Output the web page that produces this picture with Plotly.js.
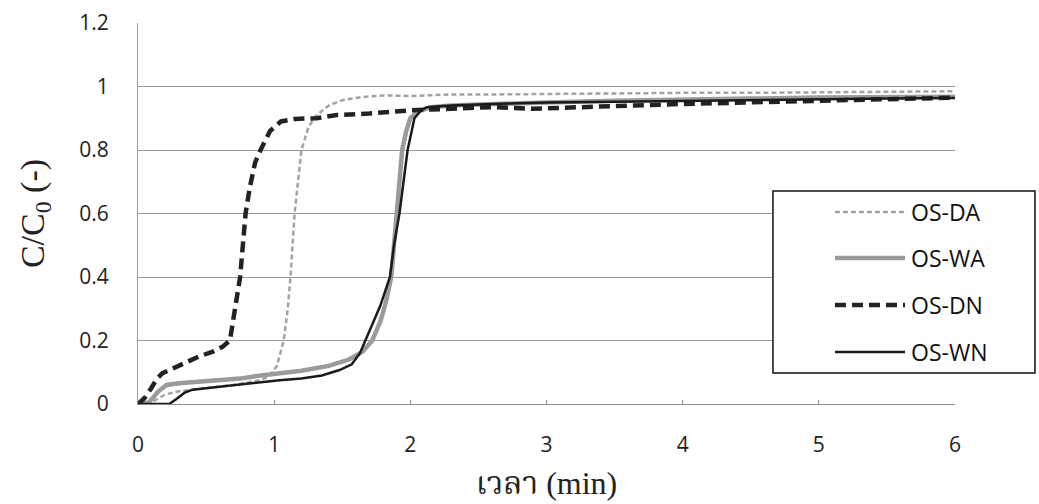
<!DOCTYPE html>
<html>
<head>
<meta charset="utf-8">
<script src="https://cdn.plot.ly/plotly-3.0.1.min.js"></script>
<style>html,body{margin:0;padding:0;background:#fff;}#chart{width:1039px;height:504px;}</style>
</head>
<body>
<div id="chart"></div>
<script>
// Data
const daX = [0, 0.1, 0.2, 0.3, 0.5, 0.7, 0.9, 0.97, 1.02, 1.05, 1.07, 1.1, 1.12, 1.15, 1.2, 1.25, 1.3, 1.4, 1.5, 1.65, 1.8, 2.0, 2.3, 2.6, 3.0, 3.5, 4.0, 4.5, 5.0, 5.5, 6.0];
const daY = [0, 0.005, 0.03, 0.04, 0.05, 0.06, 0.075, 0.09, 0.12, 0.17, 0.2, 0.3, 0.4, 0.6, 0.8, 0.87, 0.905, 0.94, 0.957, 0.967, 0.972, 0.97, 0.975, 0.975, 0.977, 0.978, 0.98, 0.98, 0.982, 0.983, 0.985];

const waX = [0, 0.08, 0.15, 0.21, 0.3, 0.43, 0.6, 0.75, 0.9, 1.0, 1.2, 1.4, 1.55, 1.65, 1.72, 1.78, 1.82, 1.86, 1.88, 1.9, 1.92, 1.94, 1.97, 2.0, 2.05, 2.15, 2.3, 2.6, 3.0, 3.5, 4.0, 4.5, 5.0, 5.5, 6.0];
const waY = [0, 0.005, 0.04, 0.06, 0.065, 0.07, 0.075, 0.08, 0.09, 0.095, 0.105, 0.12, 0.14, 0.165, 0.2, 0.26, 0.32, 0.4, 0.5, 0.6, 0.7, 0.8, 0.86, 0.9, 0.92, 0.935, 0.94, 0.945, 0.95, 0.955, 0.96, 0.962, 0.965, 0.966, 0.968];

const dnX = [0, 0.05, 0.09, 0.14, 0.18, 0.27, 0.36, 0.45, 0.55, 0.62, 0.675, 0.7, 0.72, 0.75, 0.77, 0.79, 0.82, 0.86, 0.9, 0.97, 1.05, 1.15, 1.31, 1.46, 1.7, 2.0, 2.3, 2.6, 2.9, 3.2, 3.5, 4.0, 4.5, 5.0, 5.5, 6.0];
const dnY = [0, 0.02, 0.045, 0.08, 0.097, 0.115, 0.13, 0.15, 0.165, 0.18, 0.2, 0.26, 0.32, 0.4, 0.5, 0.6, 0.68, 0.76, 0.8, 0.86, 0.89, 0.898, 0.9, 0.91, 0.915, 0.925, 0.93, 0.935, 0.93, 0.935, 0.94, 0.945, 0.95, 0.955, 0.96, 0.965];

const wnX = [0, 0.23, 0.28, 0.34, 0.4, 0.5, 0.675, 0.85, 1.04, 1.2, 1.35, 1.48, 1.57, 1.63, 1.67, 1.72, 1.78, 1.85, 1.88, 1.92, 1.95, 1.98, 2.03, 2.08, 2.12, 2.3, 2.6, 3.0, 3.5, 4.0, 4.5, 5.0, 5.5, 6.0];
const wnY = [0, 0, 0.015, 0.035, 0.045, 0.05, 0.058, 0.066, 0.075, 0.08, 0.09, 0.107, 0.125, 0.16, 0.2, 0.25, 0.31, 0.4, 0.5, 0.6, 0.7, 0.8, 0.9, 0.925, 0.935, 0.94, 0.945, 0.95, 0.952, 0.955, 0.958, 0.96, 0.962, 0.964];

const seriesNames = ['OS-DA', 'OS-WA', 'OS-DN', 'OS-WN'];
const xTicks = [0, 1, 2, 3, 4, 5, 6];
const yTicks = [0, 0.2, 0.4, 0.6, 0.8, 1, 1.2];
const yTickText = ['0', '0.2', '0.4', '0.6', '0.8', '1', '1.2'];

const lineStyles = [
  {color: '#a3a3a3', width: 2.5, dash: '5px,3px'},
  {color: '#9b9b9b', width: 4.5, dash: 'solid'},
  {color: '#222222', width: 4.5, dash: '11px,6px'},
  {color: '#1a1a1a', width: 2.5, dash: 'solid'}
];
const seriesX = [daX, waX, dnX, wnX];
const seriesY = [daY, waY, dnY, wnY];

const traces = seriesNames.map(function (n, i) {
  return {x: seriesX[i], y: seriesY[i], name: n, mode: 'lines', line: lineStyles[i], showlegend: false};
});

// Boxed legend (drawn in paper coordinates, right side of the plot)
const legendRows = [0.5039, 0.3832, 0.2598, 0.1365];
const shapes = [{
  type: 'rect', xref: 'paper', yref: 'paper',
  x0: 0.7772, x1: 1.0979, y0: 0.0814, y1: 0.559,
  line: {color: '#111', width: 1.5}, fillcolor: '#fff', layer: 'above'
}];
const annotations = [];
seriesNames.forEach(function (n, i) {
  shapes.push({type: 'line', xref: 'paper', yref: 'paper', x0: 0.8531, x1: 0.9388,
    y0: legendRows[i], y1: legendRows[i], line: lineStyles[i], layer: 'above'});
  annotations.push({xref: 'paper', yref: 'paper', x: 0.9436, y: legendRows[i], text: n,
    showarrow: false, xanchor: 'left', yanchor: 'middle',
    font: {family: 'Open Sans, Noto Sans, sans-serif', size: 23, color: '#111'}});
});

const layout = {
  width: 1039, height: 504,
  margin: {l: 138, r: 84, t: 23, b: 100},
  paper_bgcolor: '#fff', plot_bgcolor: '#fff',
  showlegend: false,
  xaxis: {
    range: [0, 6], tickvals: xTicks, ticktext: xTicks.map(String),
    showgrid: false, zeroline: false,
    showline: true, linecolor: '#8c8c8c', linewidth: 1,
    ticks: 'inside', ticklen: 4, tickcolor: '#8c8c8c',
    tickfont: {family: 'Open Sans, Noto Sans, sans-serif', size: 21, color: '#222'},
    ticklabelstandoff: 22,
    title: {text: 'เวลา (min)', font: {family: 'Liberation Serif, Noto Serif Thai, serif', size: 32, color: '#222'}, standoff: 14}
  },
  yaxis: {
    range: [0, 1.2], tickvals: yTicks, ticktext: yTickText,
    showgrid: true, gridcolor: '#9a9a9a', gridwidth: 1,
    zeroline: false, showline: true, linecolor: '#9a9a9a', linewidth: 1,
    ticks: '',
    tickfont: {family: 'Open Sans, Noto Sans, sans-serif', size: 21, color: '#222'},
    ticklabelstandoff: 24,
    title: {text: 'C/C<sub>0</sub> (-)', font: {family: 'Liberation Serif, serif', size: 34, color: '#222'}, standoff: 24}
  },
  shapes: shapes,
  annotations: annotations
};

Plotly.newPlot('chart', traces, layout, {displayModeBar: false, staticPlot: true});
</script>
</body>
</html>
